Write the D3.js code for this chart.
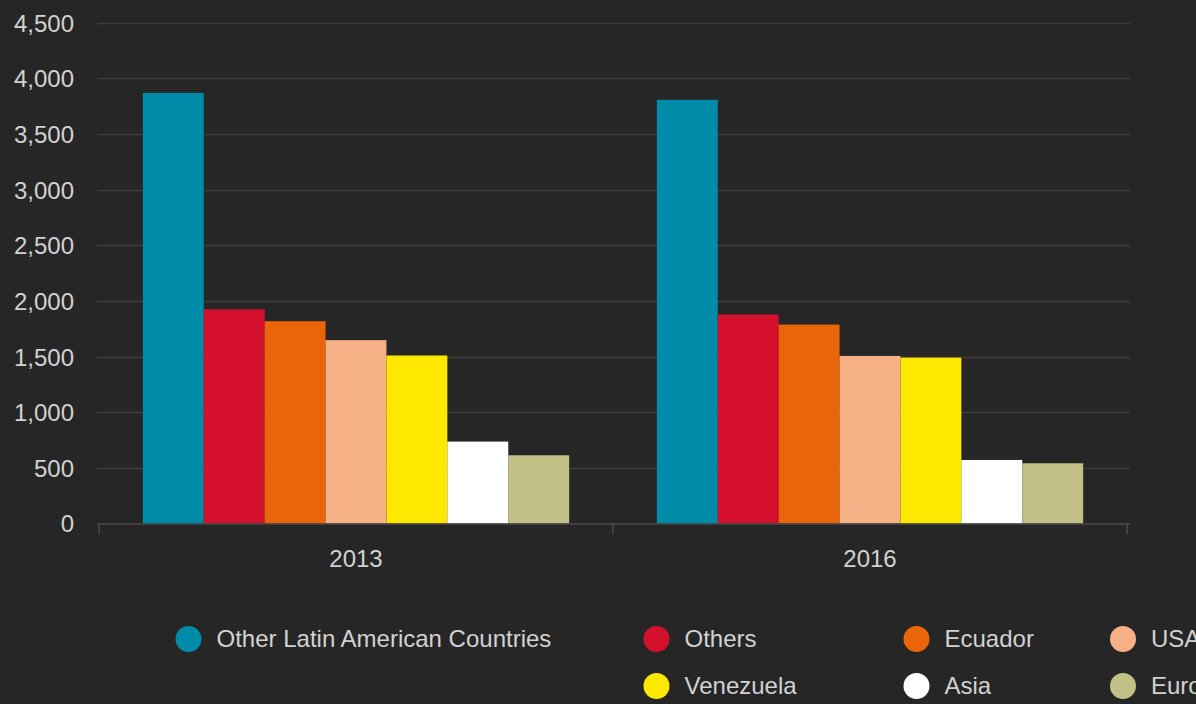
<!DOCTYPE html>
<html>
<head>
<meta charset="utf-8">
<script src="https://cdn.jsdelivr.net/npm/d3@7"></script>
<style>
  html, body { margin: 0; padding: 0; background: #262626; }
  svg { display: block; }
  text { font-family: "Liberation Sans", Arial, Helvetica, sans-serif; }
</style>
</head>
<body>
<svg id="chart" width="1196" height="704"></svg>
<script>
// Categories and series
const years = ["2013", "2016"];
const regions = ["Other Latin American Countries", "Others", "Ecuador", "USA", "Venezuela", "Asia", "Europe"];
const values2013 = [3870, 1925, 1818, 1648, 1510, 736, 613];
const values2016 = [3808, 1878, 1788, 1506, 1491, 571, 541];
const regionColors = ["#008ca8", "#d5102c", "#ea650a", "#f5b086", "#ffe800", "#ffffff", "#c2c085"];
const yTicks = [0, 500, 1000, 1500, 2000, 2500, 3000, 3500, 4000, 4500];

const seriesByYear = { "2013": values2013, "2016": values2016 };

const svg = d3.select("#chart");
const W = 1196, H = 704;
const FONT = "24px";

svg.append("rect").attr("width", W).attr("height", H).attr("fill", "#262626");

const plotLeft = 97, plotRight = 1130;
const y = d3.scaleLinear().domain([0, 4500]).range([523.5, 22.8]);

const x0 = d3.scaleBand().domain(years).range([99, 1127]).paddingInner(0).paddingOuter(0);
const x1 = d3.scaleBand().domain(regions).range([0, x0.bandwidth()]).paddingInner(0).paddingOuter(0.72);
const color = d3.scaleOrdinal().domain(regions).range(regionColors);

// Horizontal grid lines
svg.append("g")
  .selectAll("line")
  .data(yTicks.filter(t => t > 0))
  .join("line")
  .attr("x1", plotLeft).attr("x2", plotRight)
  .attr("y1", d => Math.round(y(d)) + 0.5).attr("y2", d => Math.round(y(d)) + 0.5)
  .attr("stroke", "#3d3d3d").attr("stroke-width", 1.5);

// Y axis labels
const yAxis = d3.axisLeft(y).tickValues(yTicks).tickFormat(d3.format(",")).tickSize(0).tickPadding(0);
const gy = svg.append("g").attr("transform", "translate(74,0)").call(yAxis);
gy.select(".domain").remove();
gy.selectAll("text")
  .attr("fill", "#d2d2d2")
  .style("font-size", FONT)
  .attr("dy", "0.35em");

// Bars
const groups = svg.append("g")
  .selectAll("g")
  .data(years)
  .join("g")
  .attr("transform", d => `translate(${x0(d)},0)`);

groups.selectAll("rect")
  .data(yr => regions.map((r, i) => ({ region: r, value: seriesByYear[yr][i] })))
  .join("rect")
  .attr("x", d => x1(d.region))
  .attr("width", x1.bandwidth())
  .attr("y", d => y(d.value))
  .attr("height", d => y(0) - y(d.value))
  .attr("fill", d => color(d.region));

// X axis
const xAxis = d3.axisBottom(x0).tickSize(0).tickPadding(0);
const gx = svg.append("g").attr("transform", `translate(0,${y(0)})`).call(xAxis);
gx.select(".domain").remove();
gx.selectAll("text")
  .attr("fill", "#d2d2d2")
  .style("font-size", FONT)
  .attr("y", 26);

svg.append("line")
  .attr("x1", plotLeft).attr("x2", plotRight)
  .attr("y1", y(0) + 0.5).attr("y2", y(0) + 0.5)
  .attr("stroke", "#4a4a4a").attr("stroke-width", 1.5);

// Tick marks at category boundaries
const boundaries = [x0.range()[0], x0(years[1]), x0.range()[1]];
svg.append("g")
  .selectAll("line")
  .data(boundaries)
  .join("line")
  .attr("x1", d => d).attr("x2", d => d)
  .attr("y1", y(0)).attr("y2", y(0) + 11)
  .attr("stroke", "#4a4a4a").attr("stroke-width", 1.5);

// Legend
const legendCols = [188.5, 656.5, 916.5, 1123];
const legendRows = [639, 686];
const legendSlots = [[0, 0], [1, 0], [2, 0], [3, 0], [1, 1], [2, 1], [3, 1]];

const legend = svg.append("g")
  .selectAll("g")
  .data(regions)
  .join("g")
  .attr("transform", (d, i) => `translate(${legendCols[legendSlots[i][0]]},${legendRows[legendSlots[i][1]]})`);

legend.append("circle")
  .attr("r", 13)
  .attr("fill", d => color(d));

legend.append("text")
  .attr("x", 28)
  .attr("dy", "0.35em")
  .attr("fill", "#d2d2d2")
  .style("font-size", FONT)
  .text(d => d);
</script>
</body>
</html>
